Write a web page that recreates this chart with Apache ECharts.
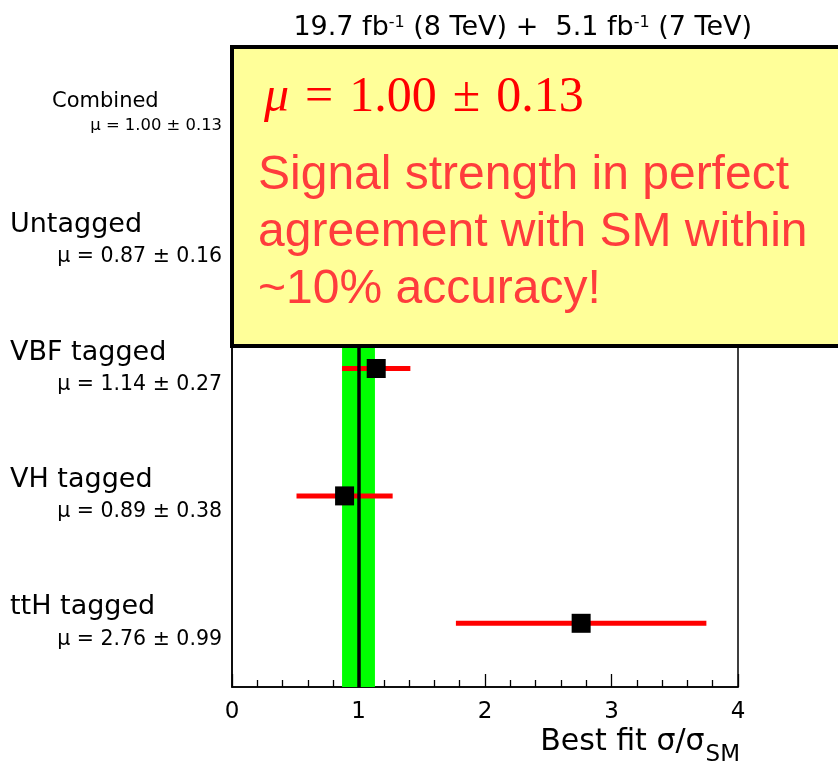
<!DOCTYPE html>
<html>
<head>
<meta charset="utf-8">
<script src="https://cdn.jsdelivr.net/npm/echarts@6/dist/echarts.min.js"></script>
<style>
  html, body { margin: 0; padding: 0; background: #ffffff; }
  #chart { width: 838px; height: 767px; }
</style>
</head>
<body>
<div id="chart"></div>
<script>
// Signal-strength fits per event category (H -> gamma gamma)
const categories = ['Combined', 'Untagged', 'VBF tagged', 'VH tagged', 'ttH tagged'];
const muValues = [1.00, 0.87, 1.14, 0.89, 2.76];
const muErrors = [0.13, 0.16, 0.27, 0.38, 0.99];
const xMin = 0;
const xMax = 4;
const xStep = 1;
const smExpectation = 1;
const headerParts = ['19.7 fb', '-1', ' (8 TeV) +  5.1 fb', '-1', ' (7 TeV)'];
const boxFormula = ['μ', '=', '1.00', '±', '0.13'];
const boxLines = ['Signal strength in perfect', 'agreement with SM within', '~10% accuracy!'];

const SANS = '"DejaVu Sans", sans-serif';
const ARIAL = '"Liberation Sans", Arial, sans-serif';
const SERIF = '"Liberation Serif", "Times New Roman", serif';

const fmt = v => v.toFixed(2);

// error bars and markers for the individual categories (combined is drawn as the band)
const barData = [];
const pointData = [];
categories.forEach((c, i) => {
  if (i === 0) return;
  barData.push([muValues[i] - muErrors[i], muValues[i] + muErrors[i], i]);
  pointData.push([muValues[i], i]);
});

const chart = echarts.init(document.getElementById('chart'), null, { renderer: 'canvas' });

const formulaStyle = (extra) => Object.assign({ fontFamily: SERIF, fontSize: 50, fill: '#ff0000' }, extra || {});

chart.setOption({
  backgroundColor: '#ffffff',
  animation: false,
  grid: {
    left: 232, right: 100, top: 50, bottom: 79,
    show: true, borderColor: '#000000', borderWidth: 1.5, backgroundColor: 'transparent'
  },
  xAxis: {
    type: 'value',
    min: xMin, max: xMax, interval: xStep,
    axisLine: { show: true, lineStyle: { color: '#000', width: 1.5 } },
    axisTick: { show: true, inside: true, length: 13, lineStyle: { color: '#000', width: 1.3 } },
    minorTick: { show: true, splitNumber: 5, length: 7, lineStyle: { color: '#000', width: 1.3 } },
    splitLine: { show: false },
    axisLabel: { fontFamily: SANS, fontSize: 23, color: '#000', margin: 14 },
    name: '{a|Best fit σ/σ}{b|SM}',
    nameLocation: 'end',
    nameGap: 2,
    nameTextStyle: {
      align: 'right', verticalAlign: 'top', padding: [40, 0, 0, 0],
      rich: {
        a: { fontFamily: SANS, fontSize: 30, lineHeight: 32, verticalAlign: 'top', color: '#000' },
        b: { fontFamily: SANS, fontSize: 23, lineHeight: 24, verticalAlign: 'top', padding: [17, 0, 0, 1], color: '#000' }
      }
    }
  },
  yAxis: {
    type: 'category',
    data: categories,
    inverse: true,
    axisLine: { show: true, lineStyle: { color: '#000', width: 1.5 } },
    axisTick: { show: false },
    splitLine: { show: false },
    axisLabel: {
      interval: 0,
      margin: 10,
      width: 212,
      formatter: (value) => {
        const i = categories.indexOf(value);
        const mu = 'μ = ' + fmt(muValues[i]) + ' ± ' + fmt(muErrors[i]);
        return i === 0 ? '{cn|' + value + '}\n{cm|' + mu + '}' : '{n|' + value + '}\n{m|' + mu + '}';
      },
      rich: {
        n: { fontFamily: SANS, fontSize: 27, lineHeight: 32, align: 'left', color: '#000' },
        m: { fontFamily: SANS, fontSize: 20.5, lineHeight: 32, align: 'right', color: '#000' },
        cn: { fontFamily: SANS, fontSize: 21, lineHeight: 24, align: 'left', padding: [0, 0, 0, 42], color: '#000' },
        cm: { fontFamily: SANS, fontSize: 16.4, lineHeight: 24, align: 'right', color: '#000' }
      }
    }
  },
  series: [
    {
      type: 'custom',
      name: 'errors',
      z: 3,
      silent: true,
      encode: { x: [0, 1], y: 2 },
      data: barData,
      renderItem: (params, api) => {
        const a = api.coord([api.value(0), api.value(2)]);
        const b = api.coord([api.value(1), api.value(2)]);
        return {
          type: 'line',
          shape: { x1: a[0], y1: a[1], x2: b[0], y2: b[1] },
          style: { stroke: '#ff0000', lineWidth: 5 }
        };
      }
    },
    {
      type: 'scatter',
      name: 'fits',
      z: 6,
      silent: true,
      symbol: 'rect',
      symbolSize: 19,
      itemStyle: { color: '#000000', opacity: 1 },
      data: pointData,
      markArea: {
        silent: true,
        itemStyle: { color: '#00ff00', opacity: 1 },
        data: [[{ xAxis: muValues[0] - muErrors[0] }, { xAxis: muValues[0] + muErrors[0] }]]
      },
      markLine: {
        silent: true,
        symbol: ['none', 'none'],
        label: { show: false },
        lineStyle: { color: '#000000', width: 3.5, type: 'solid', opacity: 1 },
        data: [{ xAxis: smExpectation }]
      }
    }
  ],
  graphic: [
    {
      type: 'text',
      z: 50,
      x: 752, y: 30,
      style: {
        text: '{a|' + headerParts[0] + '}{s|' + headerParts[1] + '}{a|' + headerParts[2] + '}{s|' + headerParts[3] + '}{a|' + headerParts[4] + '}',
        align: 'right', verticalAlign: 'middle',
        rich: {
          a: { fontFamily: SANS, fontSize: 27, lineHeight: 31, verticalAlign: 'top', fill: '#000' },
          s: { fontFamily: SANS, fontSize: 16, lineHeight: 17, verticalAlign: 'top', fill: '#000' }
        }
      }
    },
    {
      type: 'rect',
      z: 100,
      shape: { x: 232, y: 47, width: 700, height: 299 },
      style: { fill: '#ffff99', stroke: '#000000', lineWidth: 4 }
    },
    {
      type: 'text',
      z: 101,
      x: 264, y: 98,
      style: {
        text: '{i|' + boxFormula[0] + '}{o|' + boxFormula[1] + '}{r|' + boxFormula[2] + '}{o|' + boxFormula[3] + '}{r|' + boxFormula[4] + '}',
        align: 'left', verticalAlign: 'middle',
        rich: {
          i: formulaStyle({ fontStyle: 'italic' }),
          o: formulaStyle({ padding: [0, 16, 0, 16] }),
          r: formulaStyle()
        }
      }
    },
    {
      type: 'text',
      z: 101,
      x: 258, y: 147,
      style: {
        text: boxLines.join('\n'),
        fontFamily: ARIAL, fontSize: 48, lineHeight: 57,
        fill: '#ff3c3c', align: 'left', verticalAlign: 'top'
      }
    }
  ]
});
</script>
</body>
</html>
